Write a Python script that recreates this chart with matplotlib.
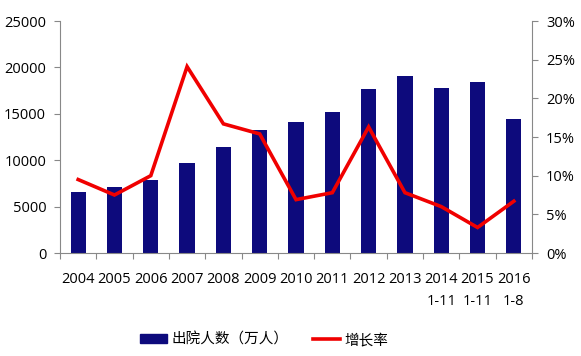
import matplotlib
matplotlib.use("Agg")
import matplotlib.pyplot as plt
import numpy as np
from matplotlib.lines import Line2D
from matplotlib.patches import Patch

plt.rcParams['font.family'] = ['Open Sans', 'Noto Sans CJK SC', 'DejaVu Sans']

categories = ['2004', '2005', '2006', '2007', '2008', '2009', '2010', '2011',
              '2012', '2013', '2014\n1-11', '2015\n1-11', '2016\n1-8']
discharges = [6600, 7100, 7850, 9700, 11400, 13250, 14100, 15200,
              17700, 19100, 17800, 18450, 14450]
growth = [9.5, 7.5, 10.0, 24.1, 16.7, 15.4, 6.9, 7.8, 16.3, 7.8, 6.0, 3.3, 6.7]

bar_color = '#0d0a7c'
line_color = '#f00000'
axis_color = '#888888'

fig = plt.figure(figsize=(5.81, 3.56), dpi=100)
ax = fig.add_axes([0.1033, 0.2893, 0.8124, 0.6517])
x = np.arange(len(categories))
ax.bar(x, discharges, width=0.42, color=bar_color, zorder=2)
ax.set_xlim(-0.5, len(categories) - 0.5)
ax.set_ylim(0, 25000)
ax.set_yticks(np.arange(0, 25001, 5000))

ax2 = ax.twinx()
ax2.plot(x, growth, color=line_color, linewidth=2.6, zorder=3, solid_joinstyle='miter')
ax2.set_ylim(0, 30)
ax2.set_yticks(np.arange(0, 31, 5))
ax2.set_yticklabels([f'{v}%' for v in range(0, 31, 5)])

for a in (ax, ax2):
    a.spines['top'].set_visible(False)
    for s in ('left', 'right', 'bottom'):
        a.spines[s].set_color(axis_color)
        a.spines[s].set_linewidth(0.8)
    a.tick_params(axis='y', colors=axis_color, labelcolor='black', labelsize=10.5,
                  length=4, width=0.8, direction='out')
ax.spines['right'].set_visible(False)
ax2.spines['left'].set_visible(False)
ax2.spines['bottom'].set_visible(False)

ax.set_xticks(np.arange(-0.5, len(categories), 1.0), minor=False)
ax.set_xticklabels([])
ax.tick_params(axis='x', colors=axis_color, length=4, width=0.8, direction='out')
ax.set_xticks(x, minor=True)
ax.set_xticklabels(categories, minor=True, fontsize=10.5, linespacing=1.6, va='top')
ax.tick_params(axis='x', which='minor', length=0, pad=14, labelcolor='black')
ax.tick_params(axis='y', pad=6)
ax2.tick_params(axis='y', pad=6)

handles = [Patch(facecolor=bar_color, edgecolor=bar_color),
           Line2D([0], [0], color=line_color, linewidth=2.6)]
fig.legend(handles, ['出院人数（万人）', '增长率'], loc='center',
           bbox_to_anchor=(0.455, 0.045), ncol=2, frameon=False,
           handlelength=1.85, handleheight=0.55, handletextpad=0.3, columnspacing=1.7,
           prop={'family': ['Noto Sans CJK SC', 'DejaVu Sans'], 'size': 10.5})

fig.savefig('out.png', dpi=100)
